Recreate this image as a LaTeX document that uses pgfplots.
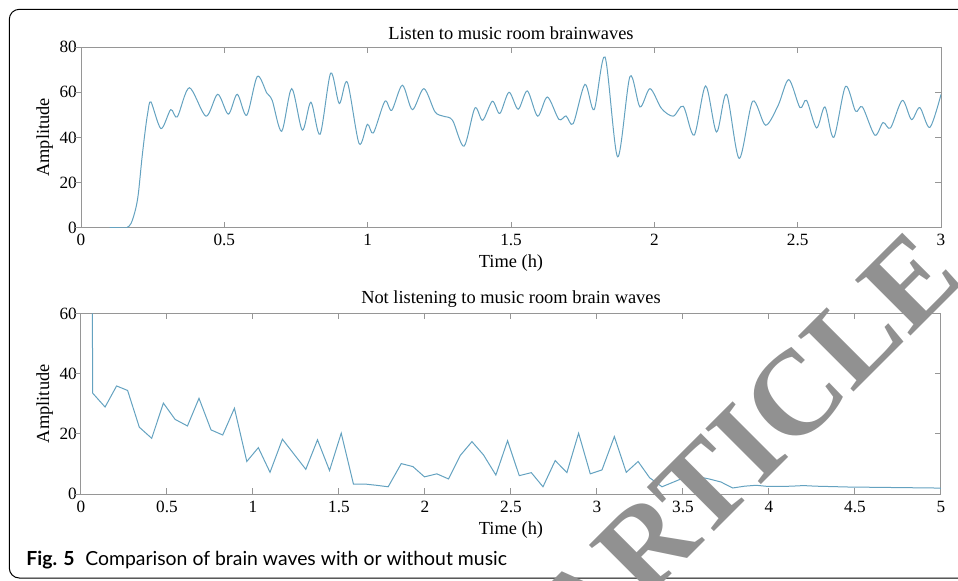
\documentclass[border=0pt]{standalone}
\usepackage{fontspec}
\setmainfont{Liberation Serif}
\newfontfamily\capfont{Lato}
\usepackage{pgfplots}
\pgfplotsset{compat=1.18}
\definecolor{wave}{RGB}{100,162,192}
\definecolor{axgray}{RGB}{150,150,150}
\definecolor{wm}{RGB}{145,145,145}

\pgfplotstableread{
t v
0.10 0
0.13 0
0.159 0
0.175 2
0.19 8
0.20 15
0.212 30
0.223 42
0.233 51
0.244 55.7
0.279 43.9
0.313 52.3
0.336 49.1
0.378 62
0.436 49.4
0.477 59.1
0.514 50.3
0.545 59.1
0.578 49.8
0.615 67
0.648 59.7
0.667 56.4
0.700 42.7
0.735 61.6
0.772 43.2
0.802 55.6
0.834 41.4
0.871 68.5
0.901 55
0.929 64.5
0.970 37.3
0.999 45.8
1.020 42
1.060 56
1.084 52
1.121 63.1
1.156 52.3
1.196 61.6
1.235 51.3
1.264 49.4
1.296 47.6
1.336 36.1
1.374 53
1.401 47.6
1.435 56
1.461 50.6
1.493 60
1.525 52.5
1.557 60.6
1.593 49.4
1.627 57.9
1.667 48
1.692 49.5
1.717 46.1
1.758 63.5
1.790 52.3
1.828 75.6
1.872 31.4
1.915 67
1.950 53.5
1.985 61.6
2.025 52.8
2.066 49.4
2.101 53.8
2.139 41
2.179 62.8
2.217 42.4
2.252 59.1
2.296 30.7
2.343 56
2.388 45.4
2.432 54.2
2.469 65.6
2.508 53.2
2.531 56.4
2.566 44.2
2.595 53.5
2.626 40
2.667 62.6
2.702 51.6
2.726 53.5
2.769 41
2.798 46.6
2.824 44.2
2.865 56.4
2.897 47.9
2.926 53.2
2.961 44.4
3.0 59
}\musicdata

\pgfplotstableread{
t v
0.066 60
0.068 33.5
0.140 28.9
0.207 35.9
0.271 34.4
0.339 22.2
0.411 18.5
0.479 30.2
0.547 24.8
0.619 22.6
0.686 31.8
0.756 21.3
0.824 19.6
0.892 28.5
0.964 10.8
1.031 15.4
1.099 7.2
1.171 18.2
1.239 13.2
1.307 8.2
1.375 18.0
1.445 7.8
1.513 20.2
1.584 3.3
1.652 3.3
1.717 2.9
1.786 2.4
1.862 10.1
1.930 9.1
1.997 5.7
2.069 6.7
2.137 5.0
2.205 12.8
2.273 17.4
2.340 13.0
2.412 6.3
2.480 17.7
2.548 6.1
2.618 7.1
2.686 2.4
2.757 11.1
2.825 7.1
2.893 20.2
2.961 6.7
3.029 8.0
3.101 19.1
3.170 7.2
3.239 10.8
3.306 5.4
3.378 2.4
3.446 4.0
3.514 5.6
3.583 5.8
3.652 5.0
3.720 4.0
3.789 2.0
3.858 2.6
3.926 2.9
3.995 2.5
4.064 2.5
4.132 2.6
4.200 2.8
4.270 2.6
4.340 2.5
4.408 2.4
4.476 2.3
4.545 2.3
4.614 2.2
4.682 2.2
4.751 2.1
4.820 2.1
4.888 2.0
4.957 2.0
5.000 1.9
}\nomusicdata

\pgfplotsset{brain/.style={
  scale only axis, width=430pt, height=90.3pt,
  anchor=south west,
  axis line style={axgray, line width=0.5pt},
  tick style={axgray, line width=0.5pt},
  major tick length=3pt,
  tick align=inside,
  ytick pos=right, yticklabel pos=left,
  /pgf/number format/assume math mode=true,
  ticklabel style={font=\fontsize{8.6}{10}\selectfont, text=black},
  label style={font=\fontsize{9.2}{11}\selectfont},
  title style={font=\fontsize{9.2}{11}\selectfont, at={(axis description cs:0.5,1)}, anchor=base},
  xticklabel style={anchor=base, yshift=-9pt, inner sep=0pt},
  yticklabel style={anchor=east, inner sep=0pt, xshift=-1.9pt},
  xlabel style={at={(axis description cs:0.5,0)}, anchor=base, yshift=-20pt},
  ylabel style={at={(axis description cs:-0.0372,0.5)}, anchor=base},
  extra y tick labels={},
  extra y tick style={ytick pos=left, tick align=outside},
  scaled ticks=false,
}}

\begin{document}
\begin{tikzpicture}
\path[use as bounding box] (0,0) rectangle (479pt,290pt);
\draw[black, line width=0.5pt, rounded corners=5pt] (481pt,285.35pt) -- (4.65pt,285.35pt) -- (4.65pt,1pt) -- (481pt,1pt);

\begin{axis}[brain, at={(40.5pt,176.15pt)},
  xmin=0, xmax=3, ymin=0, ymax=80,
  xtick={0,0.5,1,1.5,2,2.5,3},
  ytick={0,20,40,60,80},
  extra y ticks={0,20,40,60,80},
  title={Listen to music room brainwaves}, title style={yshift=-2.1pt},
  xlabel={Time (h)}, ylabel={Amplitude}]
\addplot[wave, line width=0.5pt, smooth] table[x=t, y=v] {\musicdata};
\end{axis}

\begin{axis}[brain, at={(40.5pt,43pt)},
  xmin=0, xmax=5, ymin=0, ymax=60,
  xtick={0,0.5,1,1.5,2,2.5,3,3.5,4,4.5,5},
  ytick={0,20,40,60},
  extra y ticks={0,20,40,60},
  title={Not listening to music room brain waves}, title style={yshift=-1.15pt},
  xlabel={Time (h)}, ylabel={Amplitude}]
\addplot[wave, line width=0.5pt] table[x=t, y=v] {\nomusicdata};
\end{axis}

\node[rotate=45, anchor=base east, text=wm, inner sep=0pt, font=\bfseries\fontsize{60}{60}\selectfont] at (483pt,150pt) {RETRACTED ARTICLE};

\node[anchor=base west, inner sep=0pt, font=\capfont\fontsize{9.7}{11}\selectfont] at (13pt,7.5pt) {\textbf{Fig. 5}\hspace{0.55em}Comparison of brain waves with or without music};
\end{tikzpicture}
\end{document}
